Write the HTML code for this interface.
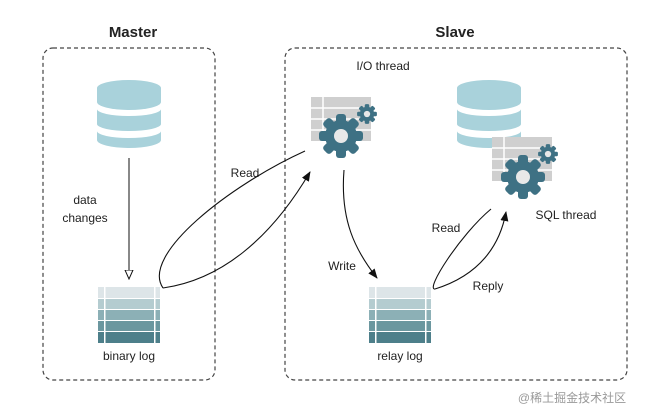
<!DOCTYPE html>
<html><head><style>body{margin:0;background:#fff}svg{display:block}text{font-family:"Liberation Sans",sans-serif;fill:#222}</style></head>
<body>
<svg width="646" height="419" viewBox="0 0 646 419" xmlns="http://www.w3.org/2000/svg">
<defs>
<marker id="ah" markerWidth="10" markerHeight="10" refX="9" refY="5" orient="auto" markerUnits="userSpaceOnUse"><path d="M0,1 L10,5 L0,9 Z" fill="#111"/></marker>
<marker id="oh" markerWidth="10" markerHeight="12" refX="9" refY="5" orient="auto" markerUnits="userSpaceOnUse"><path d="M0,1 L9,5 L0,9 Z" fill="#fff" stroke="#111" stroke-width="1"/></marker>
<g id="db">
<path d="M0,8 a32,8 0 0 1 64,0 v14 a32,8 0 0 1 -64,0 Z" fill="#a9d2db"/>
<path d="M0,29 a32,7 0 0 0 64,0 v15 a32,7 0 0 1 -64,0 Z" fill="#a9d2db"/>
<path d="M0,51 a32,7 0 0 0 64,0 v9 a32,8 0 0 1 -64,0 Z" fill="#a9d2db"/>
</g>
<g id="log">
<rect x="0" y="0" width="62" height="11" fill="#dde5e8"/>
<rect x="0" y="12" width="62" height="10" fill="#b4ccd0"/>
<rect x="0" y="23" width="62" height="10" fill="#8cb0b6"/>
<rect x="0" y="34" width="62" height="10" fill="#6b979f"/>
<rect x="0" y="45" width="62" height="11" fill="#4d7f8a"/>
<rect x="6" y="0" width="1.5" height="56" fill="#fff"/>
<rect x="56" y="0" width="1.5" height="56" fill="#fff"/>
</g>
<g id="gear">
<g fill="#3e7184">
<circle r="16"/>
<rect x="-5" y="-22" width="10" height="44" rx="3"/>
<rect x="-5" y="-22" width="10" height="44" rx="3" transform="rotate(45)"/>
<rect x="-5" y="-22" width="10" height="44" rx="3" transform="rotate(90)"/>
<rect x="-5" y="-22" width="10" height="44" rx="3" transform="rotate(135)"/>
</g>
<circle r="7" fill="#e8e8e8"/>
</g>
<g id="grid">
<rect x="0" y="0" width="60" height="44" fill="#cfcfcf"/>
<path d="M0,11 H60 M0,22 H60 M0,33 H60 M12,0 V44" stroke="#fff" stroke-width="1.5"/>
</g>
</defs>
<rect x="43" y="48" width="172" height="332" rx="10" fill="none" stroke="#444" stroke-width="1.2" stroke-dasharray="4,3"/>
<rect x="285" y="48" width="342" height="332" rx="10" fill="none" stroke="#444" stroke-width="1.2" stroke-dasharray="4,3"/>
<text x="133" y="37" font-size="15" font-weight="bold" text-anchor="middle">Master</text>
<text x="455" y="37" font-size="15" font-weight="bold" text-anchor="middle">Slave</text>
<use href="#db" x="97" y="80"/>
<use href="#db" x="457" y="80"/>
<line x1="129" y1="158" x2="129" y2="279" stroke="#111" stroke-width="1" marker-end="url(#oh)"/>
<text x="85" y="204" font-size="12" text-anchor="middle">data</text>
<text x="85" y="222" font-size="12" text-anchor="middle">changes</text>
<use href="#log" x="98" y="287"/>
<use href="#log" x="369" y="287"/>
<text x="129" y="360" font-size="12" text-anchor="middle">binary log</text>
<text x="400" y="360" font-size="12" text-anchor="middle">relay log</text>
<use href="#grid" x="311" y="97"/>
<use href="#gear" x="341" y="136"/>
<g transform="translate(367,114) scale(0.45)"><use href="#gear"/></g>
<text x="383" y="70" font-size="12" text-anchor="middle">I/O thread</text>
<use href="#grid" x="492" y="137"/>
<use href="#gear" x="523" y="177"/>
<g transform="translate(548,154) scale(0.45)"><use href="#gear"/></g>
<text x="566" y="219" font-size="12" text-anchor="middle">SQL thread</text>
<path d="M305,151 C230,185 140,255 163,288" fill="none" stroke="#111" stroke-width="1.1"/>
<path d="M163,288 C220,280 270,240 310,172" fill="none" stroke="#111" stroke-width="1.1" marker-end="url(#ah)"/>
<text x="245" y="177" font-size="12" text-anchor="middle">Read</text>
<path d="M344,170 C340,220 355,250 377,278" fill="none" stroke="#111" stroke-width="1.1" marker-end="url(#ah)"/>
<text x="342" y="270" font-size="12" text-anchor="middle">Write</text>
<path d="M491,209 C460,235 425,290 435,289" fill="none" stroke="#111" stroke-width="1.1"/>
<path d="M435,289 C480,275 500,245 506,212" fill="none" stroke="#111" stroke-width="1.1" marker-end="url(#ah)"/>
<text x="446" y="232" font-size="12" text-anchor="middle">Read</text>
<text x="488" y="290" font-size="12" text-anchor="middle">Reply</text>
<text x="572" y="402" font-size="12" text-anchor="middle" style="fill:#999;font-family:'Liberation Sans','Noto Sans CJK SC',sans-serif">@稀土掘金技术社区</text>
</svg>
</body></html>
